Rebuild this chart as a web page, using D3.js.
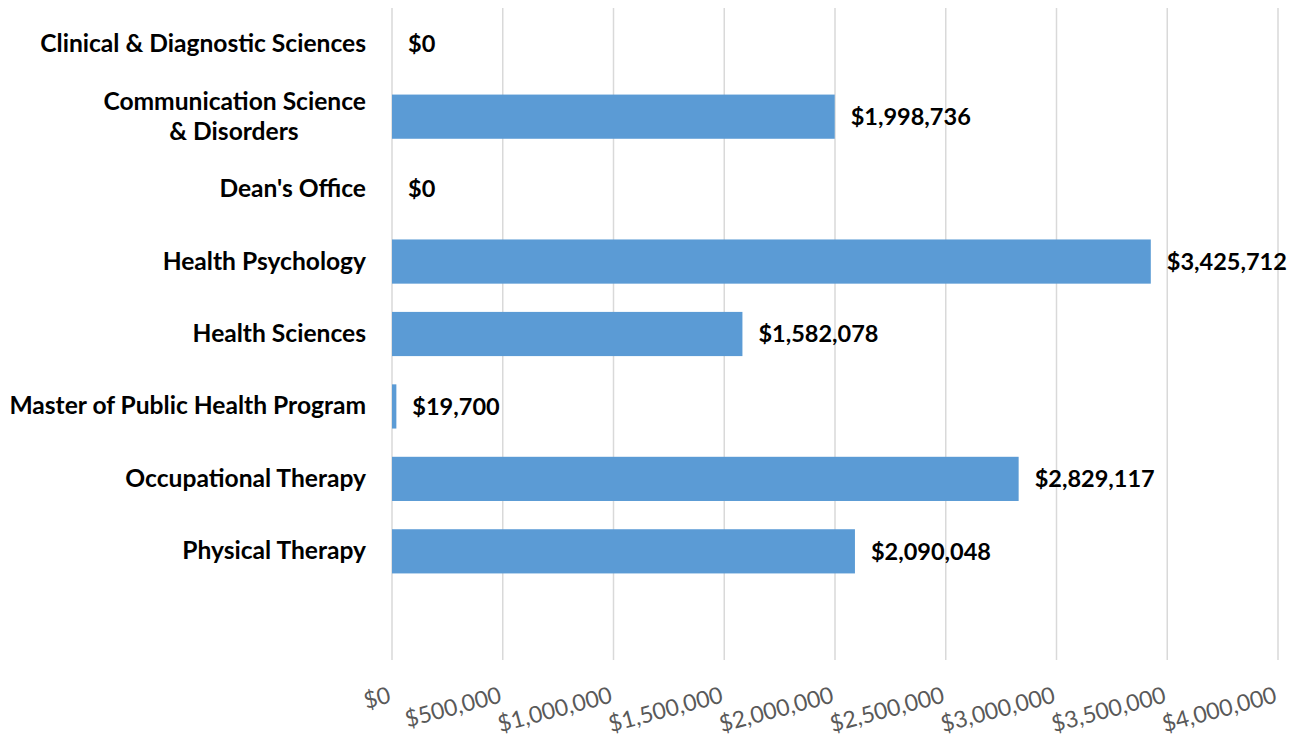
<!DOCTYPE html>
<html>
  <head>
    <meta charset="utf-8">
    <style>
      body { margin: 0; background: #fff; }
      svg text { font-family: Lato, "Open Sans", sans-serif; }
    </style>
  </head>
  <body>
    <svg id="chart" width="1304" height="739"></svg>
  </body>
  <script src="https://cdn.jsdelivr.net/npm/d3@7"></script>
  <script type="text/javascript">
    // categories, last one is the empty slot at the bottom of the chart
    var departments = [
      "Clinical & Diagnostic Sciences",
      "Communication Science\n& Disorders",
      "Dean's Office",
      "Health Psychology",
      "Health Sciences",
      "Master of Public Health Program",
      "Occupational Therapy",
      "Physical Therapy",
      ""
    ];
    var amounts = [0, 1998736, 0, 3425712, 1582078, 19700, 2829117, 2090048];
    var tickValues = [0, 500000, 1000000, 1500000, 2000000, 2500000, 3000000, 3500000, 4000000];

    var svg = d3.select("#chart");
    var plotLeft = 392, plotRight = 1278, plotTop = 8, plotBottom = 660;

    var x = d3.scaleLinear().domain([0, 4000000]).range([plotLeft, plotRight]);
    var y = d3.scaleBand()
      .domain(departments)
      .range([plotTop, plotBottom])
      .paddingInner(0.39)
      .paddingOuter(0.195);

    var money = d3.format("$,");

    // gridlines
    svg.append("g")
      .selectAll("line")
      .data(tickValues)
      .enter().append("line")
      .attr("x1", function(d) { return x(d); })
      .attr("x2", function(d) { return x(d); })
      .attr("y1", plotTop)
      .attr("y2", plotBottom)
      .attr("stroke", "#d9d9d9")
      .attr("stroke-width", 1.5);

    // tick labels, slanted
    svg.append("g")
      .selectAll("text")
      .data(tickValues)
      .enter().append("text")
      .attr("transform", function(d) { return "translate(" + x(d) + ",702) rotate(-15)"; })
      .attr("text-anchor", "end")
      .attr("fill", "#595959")
      .style("font-size", "23px")
      .text(function(d) { return money(d); });

    var rows = departments.slice(0, amounts.length);

    // bars
    svg.append("g")
      .selectAll("rect")
      .data(rows)
      .enter().append("rect")
      .attr("x", x(0))
      .attr("y", function(d) { return y(d); })
      .attr("width", function(d, i) { return x(amounts[i]) - x(0); })
      .attr("height", y.bandwidth())
      .attr("fill", "#5b9bd5");

    // value labels
    svg.append("g")
      .selectAll("text")
      .data(rows)
      .enter().append("text")
      .attr("x", function(d, i) { return x(amounts[i]) + 16; })
      .attr("y", function(d) { return y(d) + y.bandwidth() / 2; })
      .attr("dy", "0.35em")
      .attr("font-weight", "bold")
      .style("font-size", "23.5px")
      .text(function(d, i) { return money(amounts[i]); });

    // category labels
    var cats = svg.append("g")
      .selectAll("text")
      .data(rows)
      .enter().append("text")
      .attr("x", 366)
      .attr("y", function(d) { return y(d) + y.bandwidth() / 2; })
      .attr("text-anchor", "end")
      .attr("font-weight", "bold")
      .style("font-size", "24.6px");

    cats.each(function(d) {
      var el = d3.select(this);
      var lines = d.split("\n");
      lines.forEach(function(line, i) {
        el.append("tspan")
          .attr("x", i == 0 ? 366 : 234)
          .attr("text-anchor", i == 0 ? "end" : "middle")
          .attr("dy", i == 0 ? (lines.length > 1 ? "-7px" : "8px") : "30px")
          .text(line);
      });
    });
  </script>
</html>
